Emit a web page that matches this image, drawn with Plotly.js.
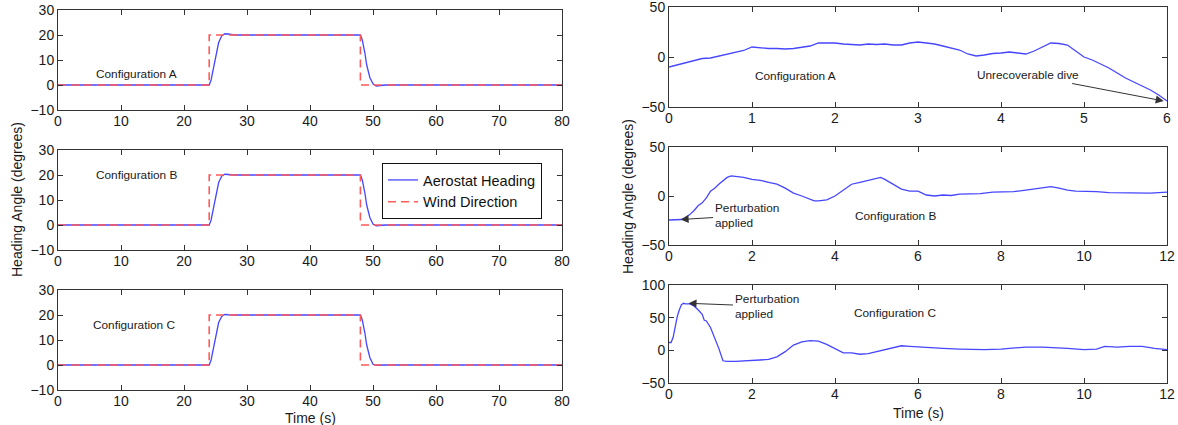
<!DOCTYPE html>
<html>
<head>
<meta charset="utf-8">
<script src="https://cdn.plot.ly/plotly-3.0.1.min.js"></script>
<style>html,body{margin:0;padding:0;background:#fff;}#chart{width:1178px;height:425px;}</style>
</head>
<body>
<div id="chart"></div>
<script>
// ---- Left column: step response (time 0-80 s) ----
var windT = [0, 24, 24, 48, 48, 80];
var windDir = [0, 0, 20, 20, 0, 0];

var headT = [0, 24, 24.3, 24.7, 25, 25.5, 26, 26.5, 27, 28, 48, 48.3, 48.7, 49, 49.5, 50, 50.5, 51, 52, 80];
var headA = [0, 0, 2, 7, 12, 17, 19.7, 20.5, 20.4, 20, 20, 18, 13, 8, 3, 0.5, -0.4, -0.3, 0, 0];
var headB = [0, 0, 2, 7, 12, 17, 19.6, 20.3, 20.2, 20, 20, 18, 13, 8, 3, 0.4, -0.3, -0.2, 0, 0];
var headC = [0, 0, 2, 7, 12, 17, 19.5, 20.2, 20.1, 20, 20, 18, 13, 8, 3, 0.3, -0.1, 0, 0, 0];

// ---- Right column: perturbation responses ----
var tA = [0,0.1,0.2,0.3,0.4,0.5,0.6,0.7,0.8,0.9,1.0,1.1,1.2,1.3,1.4,1.5,1.6,1.7,1.8,1.9,2.0,2.1,2.2,2.3,2.4,2.5,2.6,2.7,2.8,2.9,3.0,3.1,3.2,3.3,3.4,3.5,3.6,3.7,3.8,3.9,4.0,4.1,4.2,4.3,4.4,4.5,4.6,4.7,4.8,4.9,5.0,5.1,5.2,5.3,5.4,5.5,5.6,5.7,5.8,5.9,6.0];
var yA = [-10,-8,-6,-4,-1.5,-1,1,3,5,6.5,10,9,8.5,8.5,8,8.5,10,11,14,14,14,13,12.5,12,13,12.5,13,12,12,14,15,14,13,11,9,7,3,1,2,3.5,4,5,4,3,6,10,14,13.5,12,6,0,-3,-7,-11,-16,-21,-25,-29,-33,-38,-44];

var tB = [0,0.3,0.4,0.5,0.6,0.7,0.8,0.9,1.0,1.1,1.2,1.3,1.4,1.5,1.6,1.7,1.8,2.0,2.2,2.4,2.6,2.8,3.0,3.2,3.4,3.5,3.6,3.8,4.0,4.2,4.4,4.6,4.8,5.0,5.1,5.2,5.4,5.6,5.8,6.0,6.2,6.4,6.6,6.8,7.0,7.2,7.5,7.8,8.0,8.3,8.6,9.0,9.2,9.4,9.6,9.8,10.0,10.3,10.6,11.0,11.3,11.6,12.0];
var yB = [-24.5,-24,-22,-19,-15,-10,-7,-2,5,8,12,16,19,20.5,20,20,19,17,16,14,12,8,3,0,-3,-5,-5,-4,0,6,12,14,16,18,19,17,12,7,5,5,1,0,1,0.5,2,2,2.5,4,4,4.5,6,8,9.5,8,6,5,5,4.5,3.5,3.5,3,3,4];

var tC = [0,0.05,0.1,0.15,0.2,0.25,0.3,0.35,0.4,0.5,0.6,0.7,0.8,0.85,0.9,1.0,1.1,1.2,1.3,1.4,1.6,1.8,2.0,2.2,2.4,2.6,2.8,3.0,3.2,3.4,3.6,3.8,4.0,4.2,4.4,4.6,4.8,5.0,5.2,5.4,5.6,5.8,6.0,6.3,6.6,7.0,7.3,7.6,8.0,8.3,8.6,9.0,9.3,9.6,10.0,10.3,10.5,10.8,11.1,11.4,11.7,12.0];
var yC = [12,12,20,38,52,62,70,72,71,71,68,62,55,46,45,35,20,3,-16,-17,-17,-16,-15,-15,-14,-10,-2,8,13,15,14,9,2,-4,-4,-6,-5,-2,1,4,7,6,5,4,3,2,1,1,2,4,5,5,4.5,3,1,2,6,5,6,6,3,1];

var BLUE = 'rgb(70,70,255)';
var RED = 'rgb(255,90,90)';
var FONT = 'Liberation Sans, Arial, sans-serif';
var ANN = 11.8;

function blue(x, y, xa, ya, name, show) {
  return {x: x, y: y, xaxis: xa, yaxis: ya, type: 'scatter', mode: 'lines', name: name,
    showlegend: !!show, line: {color: BLUE, width: 1.3}};
}
function red(x, y, xa, ya, show) {
  return {x: x, y: y, xaxis: xa, yaxis: ya, type: 'scatter', mode: 'lines', name: 'Wind Direction',
    showlegend: !!show, line: {color: RED, width: 1.6, dash: '8px,5px'}};
}

var traces = [
  blue(headT, headA, 'x', 'y', 'Aerostat Heading', false),
  red(windT, windDir, 'x', 'y', false),
  blue(headT, headB, 'x2', 'y2', 'Aerostat Heading', true),
  red(windT, windDir, 'x2', 'y2', true),
  blue(headT, headC, 'x3', 'y3', 'Aerostat Heading', false),
  red(windT, windDir, 'x3', 'y3', false),
  blue(tA, yA, 'x4', 'y4', 'A', false),
  blue(tB, yB, 'x5', 'y5', 'B', false),
  blue(tC, yC, 'x6', 'y6', 'C', false)
];

var H = 425, W = 1178;
function yd(top, bot) { return [1 - bot / H, 1 - top / H]; }
function xd(l, r) { return [l / W, r / W]; }

function ax(domain, range, dtick, anchor, isX) {
  var o = {domain: domain, range: range, dtick: dtick, tick0: 0, anchor: anchor,
    showgrid: false, zeroline: false, showline: true, linecolor: '#333', linewidth: 1,
    mirror: 'ticks', ticks: 'inside', ticklen: 5, tickcolor: '#333',
    ticklabeloverflow: 'allow',
    tickfont: {family: FONT, size: 14, color: '#1a1a1a'}, fixedrange: true};
  if (isX) o.ticklabelstandoff = -2;
  return o;
}

var L = xd(58, 562), R = xd(669, 1167);
var layout = {
  width: W, height: H,
  margin: {l: 0, r: 0, t: 0, b: 0},
  paper_bgcolor: '#fff', plot_bgcolor: '#fff',
  font: {family: FONT, color: '#1a1a1a'},
  xaxis: ax(L, [0, 80], 10, 'y', true),
  yaxis: ax(yd(10, 110), [-10, 30], 10, 'x'),
  xaxis2: ax(L, [0, 80], 10, 'y2', true),
  yaxis2: ax(yd(150, 250), [-10, 30], 10, 'x2'),
  xaxis3: ax(L, [0, 80], 10, 'y3', true),
  yaxis3: ax(yd(290, 390), [-10, 30], 10, 'x3'),
  xaxis4: ax(R, [0, 6], 1, 'y4', true),
  yaxis4: ax(yd(7, 107), [-50, 50], 50, 'x4'),
  xaxis5: ax(R, [0, 12], 2, 'y5', true),
  yaxis5: ax(yd(147, 245), [-50, 50], 50, 'x5'),
  xaxis6: ax(R, [0, 12], 2, 'y6', true),
  yaxis6: ax(yd(285, 383), [-50, 100], 50, 'x6'),
  showlegend: true,
  legend: {x: 382 / W, y: 1 - 163 / H, xanchor: 'left', yanchor: 'top',
    bgcolor: '#fff', bordercolor: '#111', borderwidth: 1,
    font: {family: FONT, size: 14.5, color: '#111'}, tracegroupgap: 0},
  annotations: [
    {text: 'Configuration A', x: 12.5, y: 4.5, xref: 'x', yref: 'y', showarrow: false, font: {size: ANN}},
    {text: 'Configuration B', x: 12.5, y: 20, xref: 'x2', yref: 'y2', showarrow: false, font: {size: ANN}},
    {text: 'Configuration C', x: 12.0, y: 16, xref: 'x3', yref: 'y3', showarrow: false, font: {size: ANN}},
    {text: 'Configuration A', x: 1.53, y: -19, xref: 'x4', yref: 'y4', showarrow: false, font: {size: ANN}},
    {text: 'Unrecoverable dive', x: 5.96, y: -44, xref: 'x4', yref: 'y4', showarrow: true,
      ax: -136, ay: -26, arrowhead: 2, arrowsize: 1.6, arrowwidth: 1, arrowcolor: '#333', font: {size: ANN}},
    {text: 'Configuration B', x: 5.45, y: -20, xref: 'x5', yref: 'y5', showarrow: false, font: {size: ANN}},
    {text: 'Perturbation<br>applied', align: 'left', x: 0.28, y: -24, xref: 'x5', yref: 'y5', showarrow: true,
      ax: 66, ay: -4, arrowhead: 2, arrowsize: 1.6, arrowwidth: 1, arrowcolor: '#333', font: {size: ANN}},
    {text: 'Configuration C', x: 5.45, y: 57, xref: 'x6', yref: 'y6', showarrow: false, font: {size: ANN}},
    {text: 'Perturbation<br>applied', align: 'left', x: 0.47, y: 72, xref: 'x6', yref: 'y6', showarrow: true,
      ax: 78, ay: 3, arrowhead: 2, arrowsize: 1.6, arrowwidth: 1, arrowcolor: '#333', font: {size: ANN}},
    {text: 'Heading Angle (degrees)', textangle: -90, x: 17 / W, y: 1 - 200 / H, xref: 'paper', yref: 'paper',
      xanchor: 'center', yanchor: 'middle', showarrow: false, font: {size: 14}},
    {text: 'Heading Angle (degrees)', textangle: -90, x: 628 / W, y: 1 - 197 / H, xref: 'paper', yref: 'paper',
      xanchor: 'center', yanchor: 'middle', showarrow: false, font: {size: 14}},
    {text: 'Time (s)', x: 310 / W, y: 1 - 418 / H, xref: 'paper', yref: 'paper',
      xanchor: 'center', yanchor: 'middle', showarrow: false, font: {size: 14}},
    {text: 'Time (s)', x: 918 / W, y: 1 - 413 / H, xref: 'paper', yref: 'paper',
      xanchor: 'center', yanchor: 'middle', showarrow: false, font: {size: 14}}
  ]
};

Plotly.newPlot('chart', traces, layout, {staticPlot: true, displayModeBar: false});
</script>
</body>
</html>
